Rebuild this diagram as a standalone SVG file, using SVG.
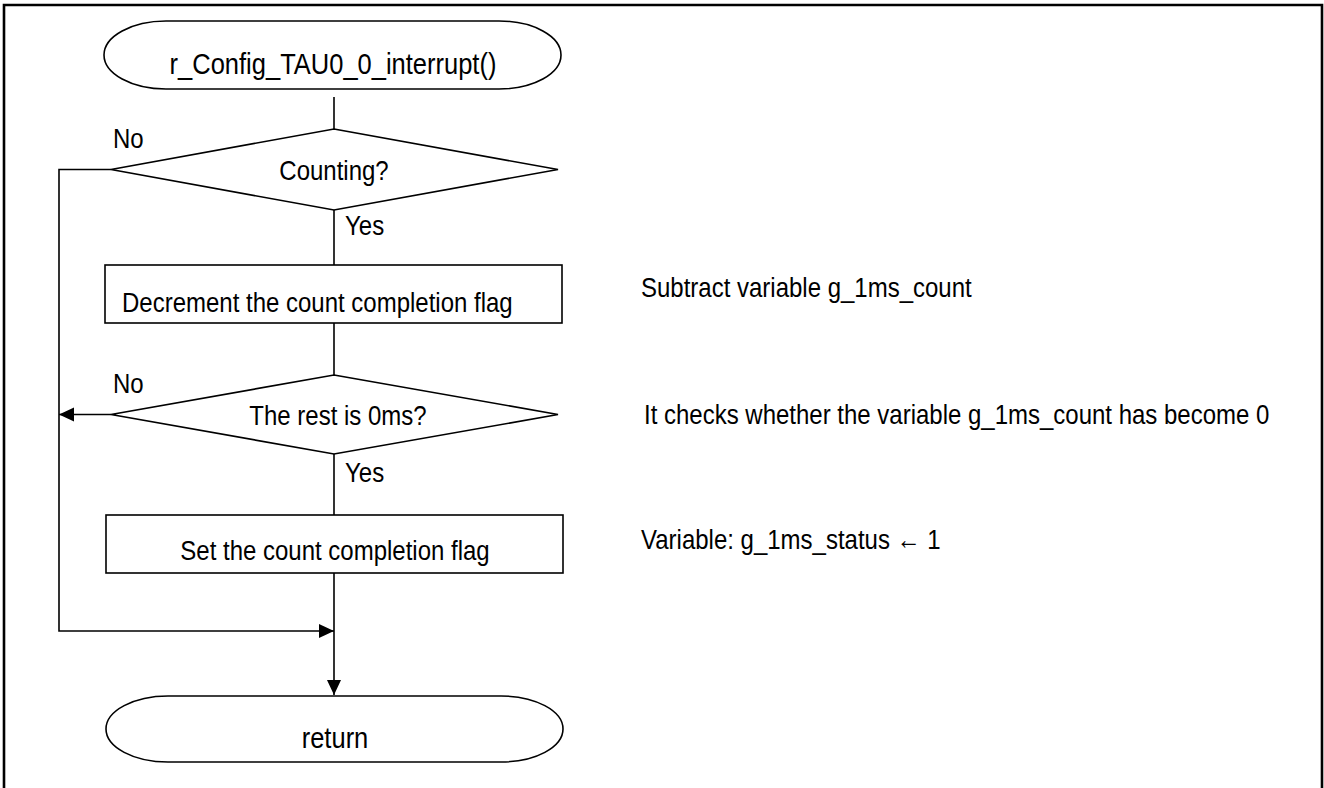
<svg xmlns="http://www.w3.org/2000/svg" width="1324" height="788" viewBox="0 0 1324 788">
<style>
.s{fill:#fff;stroke:#000;stroke-width:1.6}
.c{fill:none;stroke:#000;stroke-width:1.6}
.t{font-family:"Liberation Sans",Arial,sans-serif;font-size:24px;fill:#000}
.m{text-anchor:middle}
</style>
<defs>
<marker id="ah" markerUnits="userSpaceOnUse" markerWidth="16" markerHeight="16" viewBox="0 0 16 16" refX="15" refY="8" orient="auto">
<path d="M0,1 L15,8 L0,15 Z" fill="#000"/>
</marker>
</defs>
<rect width="1324" height="788" fill="#fff"/>
<path d="M4,800 V5 H1322 V800" fill="none" stroke="#000" stroke-width="2.6"/>
<g id="connectors">
<line class="c" x1="334" y1="97" x2="334" y2="129"/>
<line class="c" x1="334" y1="210" x2="334" y2="265"/>
<line class="c" x1="334" y1="323" x2="334" y2="375"/>
<line class="c" x1="334" y1="454" x2="334" y2="515"/>
<line class="c" x1="334" y1="573" x2="334" y2="695" marker-end="url(#ah)"/>
<polyline class="c" points="111,169.5 59,169.5 59,631 334,631" marker-end="url(#ah)"/>
<line class="c" x1="111" y1="414.5" x2="59" y2="414.5" marker-end="url(#ah)"/>
<text class="t" transform="translate(113 148) scale(1 1.18)">No</text>
<text class="t" transform="translate(345 235) scale(1 1.18)">Yes</text>
<text class="t" transform="translate(113 393) scale(1 1.18)">No</text>
<text class="t" transform="translate(345 482) scale(1 1.18)">Yes</text>
</g>
<g id="start">
<rect class="s" x="104" y="21" width="457" height="68" rx="62" ry="34"/>
<text class="t m" transform="translate(333 74) scale(1 1.18)" style="font-size:25.5px">r_Config_TAU0_0_interrupt()</text>
</g>
<g id="dec1">
<polygon class="s" points="334,129 558,169.5 334,210 111,169.5"/>
<text class="t m" transform="translate(334 180) scale(1 1.18)">Counting?</text>
</g>
<g id="proc1">
<rect class="s" x="105" y="265" width="457" height="58"/>
<text class="t" transform="translate(122 312) scale(1 1.18)">Decrement the count completion flag</text>
</g>
<g id="dec2">
<polygon class="s" points="334,375 558,414.5 334,454 111,414.5"/>
<text class="t m" transform="translate(338 425) scale(1 1.18)">The rest is 0ms?</text>
</g>
<g id="proc2">
<rect class="s" x="106" y="515" width="457" height="58"/>
<text class="t m" transform="translate(335 560) scale(1 1.18)">Set the count completion flag</text>
</g>
<g id="end">
<rect class="s" x="106" y="696" width="457" height="66" rx="62" ry="33"/>
<text class="t m" transform="translate(335 748) scale(1 1.18)" style="font-size:25.5px">return</text>
</g>
<g id="notes">
<text class="t" transform="translate(641 297) scale(1 1.18)">Subtract variable g_1ms_count</text>
<text class="t" transform="translate(644 424) scale(1 1.18)">It checks whether the variable g_1ms_count has become 0</text>
<text class="t" transform="translate(641 549) scale(1 1.18)">Variable: g_1ms_status ← 1</text>
</g>
</svg>
